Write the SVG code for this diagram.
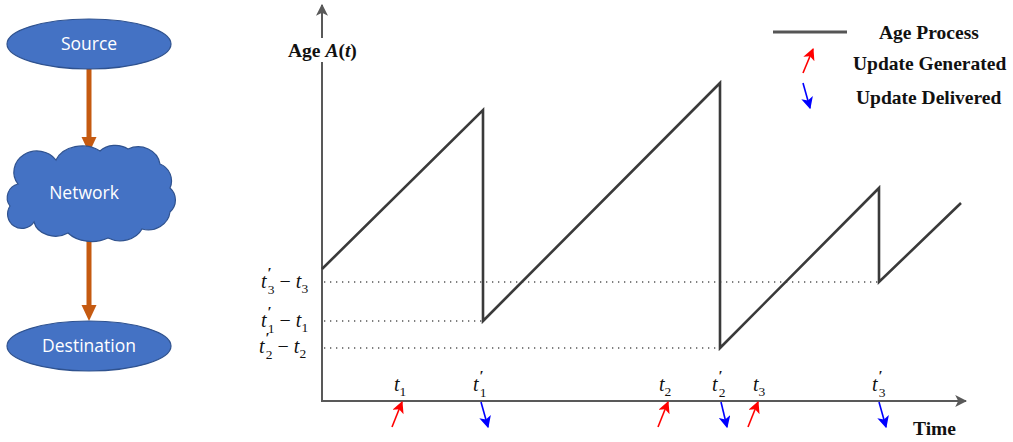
<svg xmlns="http://www.w3.org/2000/svg" width="1013" height="442" viewBox="0 0 1013 442">
<style>
.node{fill:#4472C4;stroke:#2F528F;stroke-width:1.2}
.nlabel{font-family:"Open Sans","Liberation Sans",sans-serif;font-size:17.5px;fill:#fff;text-anchor:middle}
.orange{stroke:#C55A11;stroke-width:5;fill:none}
.ohead{fill:#C55A11}
.axis{stroke:#595959;stroke-width:2;fill:none}
.saw{stroke:#3a3a3a;stroke-width:2.6;fill:none;stroke-linejoin:miter}
.dot{stroke:#555;stroke-width:1.3;stroke-dasharray:1.3 4.7;fill:none}
.red{stroke:#FF0000;stroke-width:1.6;fill:none}
.blue{stroke:#0000FF;stroke-width:1.6;fill:none}
.bold{font-family:"Liberation Serif",serif;font-weight:bold;font-size:19.5px;fill:#111}
.m{font-family:"Liberation Serif",serif;font-style:italic;font-size:20px;fill:#111}
.up{font-style:normal}
.sub{font-style:normal;font-size:13.5px}
.pr{font-style:normal;font-size:15px;font-weight:bold}
</style>
<defs>
<marker id="ahRed" markerUnits="userSpaceOnUse" markerWidth="12" markerHeight="12" refX="9" refY="5" orient="auto" viewBox="0 0 10 10">
<path d="M0,0 L10,5 L0,10 L2.5,5 z" fill="#FF0000"/>
</marker>
<marker id="ahBlue" markerUnits="userSpaceOnUse" markerWidth="12" markerHeight="12" refX="9" refY="5" orient="auto" viewBox="0 0 10 10">
<path d="M0,0 L10,5 L0,10 L2.5,5 z" fill="#0000FF"/>
</marker>
<marker id="ahGray" markerUnits="userSpaceOnUse" markerWidth="12" markerHeight="12" refX="9" refY="5" orient="auto" viewBox="0 0 10 10">
<path d="M0,0 L10,5 L0,10 L2.5,5 z" fill="#595959"/>
</marker>
</defs>

<g id="connectors">
<line class="orange" x1="89" y1="69" x2="89" y2="139"/>
<polygon class="ohead" points="81.5,137 96.5,137 89,153"/>
<line class="orange" x1="89" y1="240" x2="89" y2="307"/>
<polygon class="ohead" points="81.5,305 96.5,305 89,321"/>
</g>

<g id="source">
<ellipse class="node" cx="89" cy="44" rx="82" ry="25"/>
<text class="nlabel" x="89" y="50">Source</text>
</g>
<g id="network">
<path class="node" d="M 18,184 A 22,20 0 0 1 56,160 A 28,22 0 0 1 100,151 A 20,16 0 0 1 128,149 A 22,20 0 0 1 160,164 A 18,18 0 0 1 170,188 A 16,16 0 0 1 170,212 A 22,20 0 0 1 142,229 A 24,20 0 0 1 108,238 A 30,22 0 0 1 68,233 A 22,18 0 0 1 34,222 A 14,14 0 0 1 10,206 A 14,14 0 0 1 18,184 Z"/>
<text class="nlabel" x="84" y="199">Network</text>
</g>
<g id="destination">
<ellipse class="node" cx="89" cy="346" rx="82" ry="25"/>
<text class="nlabel" x="89" y="352">Destination</text>
</g>

<g id="chart">
<line class="axis" x1="322" y1="401" x2="322" y2="62"/>
<line class="axis" x1="322" y1="38" x2="322" y2="5" marker-end="url(#ahGray)"/>
<line class="axis" x1="321" y1="401" x2="966" y2="401" marker-end="url(#ahGray)"/>
<text class="bold" x="288" y="57">Age <tspan font-style="italic">A</tspan>(<tspan font-style="italic">t</tspan>)</text>
<text class="bold" x="913" y="435">Time</text>

<line class="dot" x1="324" y1="282" x2="879" y2="282"/>
<line class="dot" x1="324" y1="321" x2="483" y2="321"/>
<line class="dot" x1="324" y1="348" x2="719" y2="348"/>

<polyline class="saw" points="322,269 483,110 483,321 720,83 720,348 879,188 879,282 961,203"/>

<!-- y labels -->
<text class="m" x="261" y="288">t<tspan class="pr" dx="1" dy="-10">′</tspan><tspan class="sub" dx="-4" dy="16">3</tspan><tspan class="up" dx="5" dy="-6">−</tspan><tspan dx="5">t</tspan><tspan class="sub" dy="5">3</tspan></text>
<text class="m" x="261" y="327">t<tspan class="pr" dx="1" dy="-10">′</tspan><tspan class="sub" dx="-4" dy="16">1</tspan><tspan class="up" dx="5" dy="-6">−</tspan><tspan dx="5">t</tspan><tspan class="sub" dy="5">1</tspan></text>
<text class="m" x="259" y="353">t<tspan class="pr" dx="1" dy="-10">′</tspan><tspan class="sub" dx="-4" dy="16">2</tspan><tspan class="up" dx="5" dy="-6">−</tspan><tspan dx="5">t</tspan><tspan class="sub" dy="5">2</tspan></text>

<!-- x labels -->
<text class="m" x="394" y="391">t<tspan class="sub" dy="5">1</tspan></text>
<text class="m" x="473" y="391">t<tspan class="pr" dx="1" dy="-10">′</tspan><tspan class="sub" dx="-4" dy="16">1</tspan></text>
<text class="m" x="659" y="391">t<tspan class="sub" dy="5">2</tspan></text>
<text class="m" x="712" y="391">t<tspan class="pr" dx="1" dy="-10">′</tspan><tspan class="sub" dx="-4" dy="16">2</tspan></text>
<text class="m" x="753" y="391">t<tspan class="sub" dy="5">3</tspan></text>
<text class="m" x="872" y="391">t<tspan class="pr" dx="1" dy="-10">′</tspan><tspan class="sub" dx="-4" dy="16">3</tspan></text>

<!-- event arrows -->
<line class="red" x1="392" y1="427" x2="402" y2="402" marker-end="url(#ahRed)"/>
<line class="red" x1="658" y1="427" x2="668" y2="402" marker-end="url(#ahRed)"/>
<line class="red" x1="748" y1="427" x2="758" y2="402" marker-end="url(#ahRed)"/>
<line class="blue" x1="481" y1="402" x2="488" y2="427" marker-end="url(#ahBlue)"/>
<line class="blue" x1="721" y1="402" x2="727" y2="427" marker-end="url(#ahBlue)"/>
<line class="blue" x1="879" y1="402" x2="886" y2="427" marker-end="url(#ahBlue)"/>
</g>

<g id="legend">
<line x1="773" y1="32" x2="847" y2="32" stroke="#555" stroke-width="3"/>
<text class="bold" x="879" y="39">Age Process</text>
<line class="red" x1="803" y1="73" x2="813" y2="49" marker-end="url(#ahRed)"/>
<text class="bold" x="853" y="70">Update Generated</text>
<line class="blue" x1="803" y1="83" x2="810" y2="108" marker-end="url(#ahBlue)"/>
<text class="bold" x="856" y="104">Update Delivered</text>
</g>
</svg>
